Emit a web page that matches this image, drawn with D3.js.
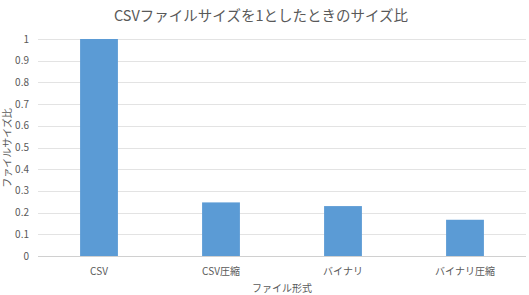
<!DOCTYPE html>
<html>
<head>
<meta charset="utf-8">
<script src="https://cdn.jsdelivr.net/npm/d3@7"></script>
<style>
  body { margin: 0; background: #fff; }
  text { font-family: "Noto Sans CJK JP", "Noto Sans", sans-serif; fill: #595959; }
</style>
</head>
<body>
<script>
var categories = ["CSV", "CSV圧縮", "バイナリ", "バイナリ圧縮"]
var ratios = [1, 0.247, 0.23, 0.167]
var yTicks = [0, 0.1, 0.2, 0.3, 0.4, 0.5, 0.6, 0.7, 0.8, 0.9, 1]

var width = 529, height = 295
var plotLeft = 38, plotRight = 526, plotTop = 39, plotBottom = 256

var svg = d3.select("body").append("svg")
    .attr("width", width)
    .attr("height", height)

var x = d3.scaleBand().domain(categories).range([plotLeft, plotRight]).paddingInner(0.69).paddingOuter(0.345)
var y = d3.scaleLinear().domain([0, 1]).range([plotBottom, plotTop])

// grid
svg.append("g").selectAll("line").data(yTicks).enter()
    .append("line")
    .attr("x1", plotLeft).attr("x2", plotRight)
    .attr("y1", function(d){ return Math.round(y(d)) + 0.5 })
    .attr("y2", function(d){ return Math.round(y(d)) + 0.5 })
    .attr("stroke", function(d){ return d === 0 ? "#d0d0d0" : "#e3e3e3" })
    .attr("stroke-width", 1)

// tick labels
svg.append("g").selectAll("text").data(yTicks).enter()
    .append("text")
    .attr("x", 29)
    .attr("y", function(d){ return y(d) })
    .attr("dy", "0.35em")
    .attr("text-anchor", "end")
    .attr("font-size", 10)
    .text(function(d){ return d })

// bars
svg.append("g").selectAll("rect").data(ratios).enter()
    .append("rect")
    .attr("x", function(d, i){ return x(categories[i]) })
    .attr("width", x.bandwidth())
    .attr("y", function(d){ return y(d) })
    .attr("height", function(d){ return y(0) - y(d) })
    .attr("fill", "#5b9bd5")

// category labels
svg.append("g").selectAll("text").data(categories).enter()
    .append("text")
    .attr("x", function(d){ return x(d) + x.bandwidth() / 2 })
    .attr("y", 271)
    .attr("dy", "0.35em")
    .attr("text-anchor", "middle")
    .attr("font-size", 10)
    .text(function(d){ return d })

svg.append("text")
    .attr("x", 282)
    .attr("y", 288)
    .attr("dy", "0.35em")
    .attr("text-anchor", "middle")
    .attr("font-size", 10)
    .text("ファイル形式")

svg.append("text")
    .attr("transform", "translate(7,148) rotate(-90)")
    .attr("dy", "0.35em")
    .attr("text-anchor", "middle")
    .attr("font-size", 10)
    .text("ファイルサイズ比")

svg.append("text")
    .attr("x", 261)
    .attr("y", 16)
    .attr("dy", "0.35em")
    .attr("text-anchor", "middle")
    .attr("font-size", 14.5)
    .text("CSVファイルサイズを1としたときのサイズ比")
</script>
</body>
</html>
